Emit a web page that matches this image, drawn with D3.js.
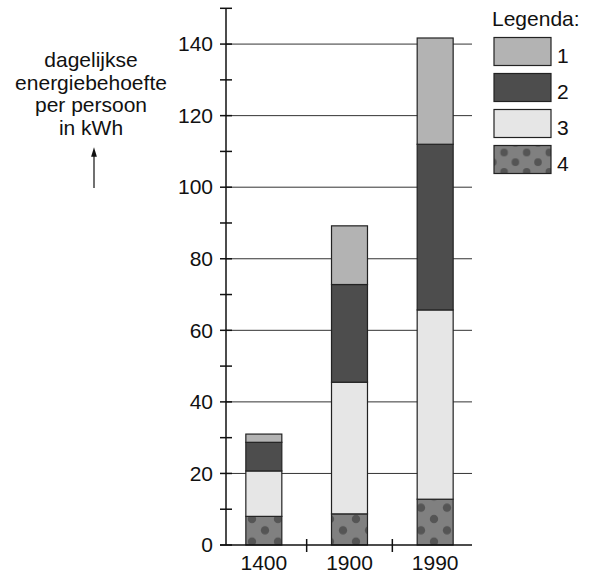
<!DOCTYPE html>
<html>
<head>
<meta charset="utf-8">
<script src="https://cdn.jsdelivr.net/npm/d3@7"></script>
<style>
  body { margin: 0; background: #fff; }
  #chart { width: 589px; height: 575px; }
  text { font-family: "Liberation Sans", Arial, sans-serif; fill: #111; }
</style>
</head>
<body>
<div id="chart"></div>
<script>
const years = ["1400", "1900", "1990"];
// values per category (bottom to top: 4, 3, 2, 1)
const cat4 = [8, 8.7, 12.8];
const cat3 = [12.7, 36.8, 52.9];
const cat2 = [8, 27.3, 46.3];
const cat1 = [2.3, 16.4, 29.7];
const legendLabels = ["1", "2", "3", "4"];
const yTicks = [0, 20, 40, 60, 80, 100, 120, 140];
const yMinorTicks = [10, 30, 50, 70, 90, 110, 130, 150];

const colors = { "1": "#b3b3b3", "2": "#4d4d4d", "3": "#e6e6e6", "4": "url(#dots)" };
const fs = 21;

const w = 589, h = 575;
const svg = d3.select("#chart").append("svg").attr("width", w).attr("height", h);

const defs = svg.append("defs");
const pat = defs.append("pattern")
  .attr("id", "dots")
  .attr("patternUnits", "userSpaceOnUse")
  .attr("width", 26).attr("height", 22.6)
  .attr("x", 252).attr("y", 519);
pat.append("rect").attr("width", 26).attr("height", 22.6).attr("fill", "#808080");
[[0, 0], [26, 0], [13, 11.3], [0, 22.6], [26, 22.6]].forEach(([cx, cy]) => {
  pat.append("circle").attr("cx", cx).attr("cy", cy).attr("r", 4.2).attr("fill", "#555");
});

const xScale = d3.scaleBand().domain(years).range([221, 478]).paddingInner(0.58).paddingOuter(0.29);
const yScale = d3.scaleLinear().domain([0, 150]).range([545, 8.3]);

// gridlines
svg.append("g")
  .selectAll("line")
  .data(yTicks.slice(1))
  .join("line")
  .attr("x1", 226).attr("x2", 472)
  .attr("y1", d => yScale(d)).attr("y2", d => yScale(d))
  .attr("stroke", "#333").attr("stroke-width", 1);

// stacked data
const table = years.map((y, i) => ({ year: y, "4": cat4[i], "3": cat3[i], "2": cat2[i], "1": cat1[i] }));
const stack = d3.stack().keys(["4", "3", "2", "1"])(table);

svg.append("g")
  .selectAll("g")
  .data(stack)
  .join("g")
  .attr("fill", d => colors[d.key])
  .selectAll("rect")
  .data(d => d)
  .join("rect")
  .attr("x", d => xScale(d.data.year))
  .attr("width", xScale.bandwidth())
  .attr("y", d => yScale(d[1]))
  .attr("height", d => yScale(d[0]) - yScale(d[1]))
  .attr("stroke", "#222").attr("stroke-width", 1.2);

// y axis
const yAxis = svg.append("g").attr("transform", "translate(226,0)")
  .call(d3.axisLeft(yScale).tickValues(yTicks).tickSize(0).tickPadding(13));
yAxis.select(".domain").remove();
yAxis.selectAll("text").attr("font-size", fs).attr("font-family", "Liberation Sans, Arial, sans-serif").attr("fill", "#111");
svg.append("line").attr("x1", 226).attr("x2", 226).attr("y1", yScale(150)).attr("y2", yScale(0))
  .attr("stroke", "#111").attr("stroke-width", 1.5);
svg.append("g").selectAll("line").data(yTicks.concat(yMinorTicks)).join("line")
  .attr("x1", 220).attr("x2", 232)
  .attr("y1", d => yScale(d)).attr("y2", d => yScale(d))
  .attr("stroke", "#111").attr("stroke-width", 1.5);

// x axis
svg.append("line").attr("x1", 220).attr("x2", 472).attr("y1", yScale(0)).attr("y2", yScale(0))
  .attr("stroke", "#111").attr("stroke-width", 1.5);
svg.append("g").selectAll("line").data(years.slice(1)).join("line")
  .attr("x1", d => xScale(d) - xScale.step() * xScale.paddingInner() / 2)
  .attr("x2", d => xScale(d) - xScale.step() * xScale.paddingInner() / 2)
  .attr("y1", yScale(0) - 6).attr("y2", yScale(0) + 7)
  .attr("stroke", "#111").attr("stroke-width", 1.5);
svg.append("g").selectAll("text").data(years).join("text")
  .attr("x", d => xScale(d) + xScale.bandwidth() / 2)
  .attr("y", 570)
  .attr("text-anchor", "middle").attr("font-size", fs)
  .text(d => d);

// y label
const yLabel = ["dagelijkse", "energiebehoefte", "per persoon", "in kWh"];
svg.append("g").selectAll("text").data(yLabel).join("text")
  .attr("x", 91).attr("y", (d, i) => 67 + i * 22.7)
  .attr("text-anchor", "middle").attr("font-size", fs)
  .text(d => d);
defs.append("marker").attr("id", "arr").attr("viewBox", "0 0 10 10")
  .attr("refX", 5).attr("refY", 5).attr("markerWidth", 8).attr("markerHeight", 8)
  .attr("orient", "auto")
  .append("path").attr("d", "M0,2 L10,5 L0,8 Z").attr("fill", "#111");
svg.append("line").attr("x1", 94).attr("x2", 94).attr("y1", 188).attr("y2", 152)
  .attr("stroke", "#111").attr("stroke-width", 1.2).attr("marker-end", "url(#arr)");

// legend
svg.append("text").attr("x", 492).attr("y", 26).attr("font-size", fs).text("Legenda:");
const lg = svg.append("g").selectAll("g").data(legendLabels).join("g")
  .attr("transform", (d, i) => `translate(494,${37.5 + i * 36})`);
lg.append("rect").attr("width", 57).attr("height", 28)
  .attr("fill", d => d === "4" ? "url(#dotsL)" : colors[d])
  .attr("stroke", "#222").attr("stroke-width", 1.2);
lg.append("text").attr("x", 63).attr("y", 25).attr("font-size", fs).text(d => d);

const patL = defs.append("pattern")
  .attr("id", "dotsL")
  .attr("patternUnits", "userSpaceOnUse")
  .attr("width", 22.6).attr("height", 19.4)
  .attr("x", 494 + 2).attr("y", 37.5 + 108 + 7);
patL.append("rect").attr("width", 22.6).attr("height", 19.4).attr("fill", "#808080");
[[0, 0], [22.6, 0], [11.3, 9.7], [0, 19.4], [22.6, 19.4]].forEach(([cx, cy]) => {
  patL.append("circle").attr("cx", cx).attr("cy", cy).attr("r", 3.8).attr("fill", "#555");
});
</script>
</body>
</html>
